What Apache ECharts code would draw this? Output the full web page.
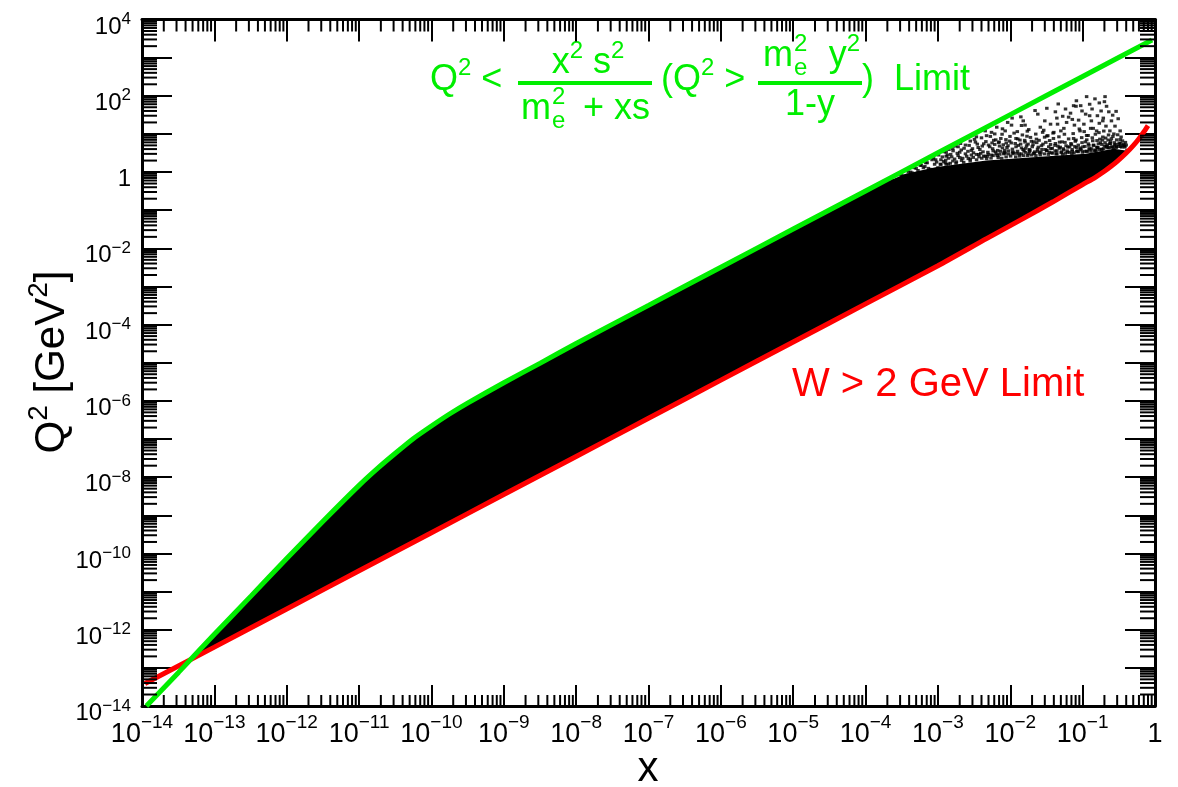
<!DOCTYPE html>
<html>
<head>
<meta charset="utf-8">
<script src="https://cdn.jsdelivr.net/npm/echarts@6/dist/echarts.min.js"></script>
<style>
  html, body { margin: 0; padding: 0; background: #fff; }
  #chart { width: 1178px; height: 787px; }
</style>
</head>
<body>
<div id="chart"></div>
<script>
// Upper kinematic limit (green): Q^2 < x^2 s^2 / (m_e^2 + x s)
const upperX  = [1.15e-14, 3.2e-14, 1e-13, 3.2e-13, 1e-12, 3.2e-12, 1e-11, 1.8e-11, 3.2e-11, 5.6e-11, 1e-10, 1.8e-10, 3.2e-10, 1e-9, 3.2e-9, 1e-8, 1e-7, 1e-6, 1e-5, 1e-4, 1e-3, 1e-2, 1e-1, 0.91];
const upperQ2 = [1e-14, 7.6e-14, 7.6e-13, 7.6e-12, 7.4e-11, 7.1e-10, 6.1e-9, 1.7e-8, 4.3e-8, 1.02e-7, 2.2e-7, 4.6e-7, 8.9e-7, 3.0e-6, 9.8e-6, 3.2e-5, 3.2e-4, 3.2e-3, 3.2e-2, 0.32, 3.2, 32, 320, 2900];

// Lower limit (red): W > 2 GeV
const lowerX  = [1.1e-14, 1e-13, 1e-12, 1e-11, 1e-10, 1e-9, 1e-8, 1e-7, 1e-6, 1e-5, 1e-4, 1e-3, 4.7e-3, 1.5e-2, 3.9e-2, 0.1, 0.15, 0.2, 0.25, 0.3, 0.4, 0.5, 0.6, 0.7, 0.8];
const lowerQ2 = [3.9e-14, 3.5e-13, 3.5e-12, 3.5e-11, 3.5e-10, 3.5e-9, 3.5e-8, 3.5e-7, 3.5e-6, 3.5e-5, 3.5e-4, 3.5e-3, 1.8e-2, 6e-2, 0.166, 0.47, 0.73, 1.05, 1.44, 1.91, 3.16, 4.94, 7.5, 11.2, 16.5];

// Outline of the densely populated event region
const bandTopX  = [4.6e-14, 1e-13, 3.2e-13, 1e-12, 3.2e-12, 1e-11, 1.8e-11, 3.2e-11, 5.6e-11, 1e-10, 1.8e-10, 3.2e-10, 1e-9, 3.2e-9, 1e-8, 1e-7, 1e-6, 1e-5, 1e-4, 1.5e-4, 3.6e-4, 9.6e-4, 4.7e-3, 2.3e-2, 0.11, 0.27, 0.39];
const bandTopQ2 = [1.6e-13, 7.6e-13, 7.6e-12, 7.4e-11, 7.1e-10, 6.1e-9, 1.7e-8, 4.3e-8, 1.02e-7, 2.2e-7, 4.6e-7, 8.9e-7, 3.0e-6, 9.8e-6, 3.2e-5, 3.2e-4, 3.2e-3, 3.2e-2, 0.32, 0.45, 0.9, 1.35, 2.0, 2.5, 3.0, 4.1, 3.7];
const bandBottomX  = [4.6e-14, 1e-13, 1e-12, 1e-11, 1e-10, 1e-9, 1e-8, 1e-7, 1e-6, 1e-5, 1e-4, 1e-3, 4.7e-3, 1.5e-2, 3.9e-2, 0.1, 0.15, 0.2, 0.25, 0.3, 0.39];
const bandBottomQ2 = [1.6e-13, 3.5e-13, 3.5e-12, 3.5e-11, 3.5e-10, 3.5e-9, 3.5e-8, 3.5e-7, 3.5e-6, 3.5e-5, 3.5e-4, 3.5e-3, 1.8e-2, 6e-2, 0.166, 0.47, 0.73, 1.05, 1.44, 1.91, 3.0];

// Individual events in the sparse high-x, high-Q^2 corner [x, Q^2]
const sparseEvents = [
  [0.1135, 95], [0.148, 83], [0.204, 95], [0.082, 74], [0.081, 53], [0.214, 53], [0.046, 61], [0.032, 47],
  [0.022, 41], [0.29, 39], [0.0106, 26], [0.0151, 22], [0.0143, 16.6], [0.0104, 17], [0.0078, 13.6], [0.0061, 10],
  [0.0047, 9], [0.0034, 8.4], [0.064, 27.5], [0.044, 26], [0.077, 17], [0.104, 18], [0.132, 22], [0.193, 26],
  [0.238, 12], [0.27, 10], [0.33, 7.1], [0.37, 5.4], [0.156, 12], [0.1135, 9.1], [0.092, 12], [0.05, 12],
  [0.039, 10.5], [0.032, 8.8], [0.023, 7.3], [0.017, 8.7], [0.012, 7.6], [0.0088, 5.8], [0.0071, 4.8], [0.0056, 5.8],
  [0.0041, 4.8], [0.003, 4.1], [0.0024, 5.1], [0.002, 3.3], [0.0016, 4.1], [0.0013, 2.6], [0.0011, 2.1], [0.00087, 2.3],
  [0.00071, 1.75], [0.00057, 1.5], [0.00047, 1.3], [0.00037, 1.1], [0.0003, 0.85], [0.00024, 0.6], [0.00021, 0.55],
  [0.00079, 1.18], [0.001, 1.3], [0.0013, 1.6], [0.0018, 1.85], [0.0022, 2.3], [0.0029, 2.8], [0.0037, 2.5], [0.0049, 3.3],
  [0.0064, 3.0], [0.0084, 3.7], [0.011, 3.2], [0.0143, 4.3], [0.0187, 3.7], [0.0244, 4.5], [0.032, 3.7], [0.0415, 5.0],
  [0.054, 4.1], [0.07, 5.2], [0.092, 4.3], [0.12, 5.5], [0.156, 4.5], [0.204, 5.9], [0.266, 4.1], [0.347, 4.5], [0.41, 3.7],
  [0.0033, 6.1], [0.0074, 7.6], [0.016, 6.1], [0.035, 6.7], [0.075, 7.6], [0.173, 7.3], [0.238, 5.5], [0.048, 6.1],
  [0.0206, 5.2], [0.0129, 5.0], [0.0057, 4.1], [0.0024, 3.0], [0.0014, 2.3], [0.00096, 1.83], [0.00063, 1.3], [0.00042, 1.0],
  [0.36, 3.3], [0.31, 2.5],
  [0.0012, 1.9], [0.0015, 2.9], [0.0017, 2.2], [0.0019, 2.7], [0.0021, 3.8], [0.0026, 3.5], [0.0028, 2.2], [0.0031, 3.2],
  [0.0036, 4.4], [0.0039, 3.1], [0.0043, 5.5], [0.0045, 2.6], [0.0052, 4.6], [0.0055, 2.8], [0.0059, 6.8], [0.0067, 3.7],
  [0.0069, 5.9], [0.0078, 4.3], [0.0081, 3.0], [0.0093, 4.9], [0.0098, 6.5], [0.0107, 4.0], [0.0117, 5.6], [0.0123, 3.1],
  [0.0136, 6.9], [0.0155, 3.6], [0.0168, 4.9], [0.0178, 3.0], [0.0196, 6.4], [0.0218, 3.4], [0.0232, 5.9], [0.0265, 3.3],
  [0.0283, 5.4], [0.0298, 8.2], [0.034, 4.6], [0.037, 3.2], [0.0395, 7.6], [0.044, 3.6], [0.0455, 4.8], [0.051, 3.4],
  [0.057, 6.0], [0.061, 3.6], [0.066, 4.6], [0.072, 3.5], [0.079, 6.4], [0.085, 3.6], [0.098, 5.9], [0.106, 3.5],
  [0.114, 7.0], [0.126, 4.0], [0.138, 6.6], [0.146, 3.6], [0.165, 5.5], [0.182, 4.0], [0.19, 8.3], [0.215, 4.5],
  [0.225, 6.9], [0.25, 7.5], [0.285, 5.3], [0.3, 3.4], [0.32, 5.8],
  [0.0125, 11.5], [0.018, 13], [0.026, 15], [0.028, 11], [0.036, 18], [0.055, 14], [0.06, 20], [0.068, 35],
  [0.088, 23], [0.098, 40], [0.125, 30], [0.14, 14], [0.17, 19], [0.18, 40], [0.21, 16], [0.25, 22],
  [0.28, 16], [0.17, 65], [0.125, 60], [0.058, 45], [0.0045, 12], [0.0065, 15], [0.0092, 20], [0.0028, 6.5],
  [0.0019, 4.6], [0.0013, 3.3],
  [0.00031, 0.85], [0.00034, 0.8], [0.00039, 1.0], [0.00044, 0.95], [0.0005, 1.25], [0.00053, 1.1], [0.00059, 1.5], [0.00066, 1.4],
  [0.00068, 1.75], [0.00074, 1.25], [0.00083, 2.1], [0.0009, 1.6], [0.00093, 2.1], [0.00102, 2.8], [0.00108, 1.6], [0.00115, 2.5],
  [0.00122, 3.4], [0.00128, 2.05], [0.00135, 2.8], [0.00142, 3.9], [0.00148, 1.7],
  [0.00155, 2.5], [0.00162, 3.6], [0.00175, 4.8], [0.00185, 3.1], [0.002, 2.4], [0.00205, 5.6], [0.0023, 4.2], [0.0025, 2.6],
  [0.0027, 5.0], [0.0029, 3.7], [0.0032, 7.2], [0.0034, 2.9], [0.0035, 5.4], [0.0038, 3.9], [0.004, 7.9], [0.0042, 3.4],
  [0.0046, 6.3], [0.0048, 2.6], [0.005, 5.1], [0.0053, 8.6], [0.0058, 3.6], [0.0061, 5.3], [0.0063, 7.0], [0.0066, 2.7],
  [0.007, 6.2], [0.0073, 3.5], [0.0077, 9.8], [0.008, 5.2], [0.0085, 3.1], [0.0087, 7.1], [0.009, 4.4], [0.0095, 3.0], [0.0099, 8.6],
  [0.0103, 5.8], [0.0108, 3.4], [0.0113, 10.5], [0.012, 4.6], [0.0127, 7.4], [0.0133, 3.0], [0.0139, 5.4], [0.0147, 9.4],
  [0.015, 3.9], [0.0158, 6.8], [0.0164, 4.2], [0.0172, 11.8], [0.0176, 5.4], [0.0183, 3.4], [0.019, 8.1], [0.0201, 4.6],
  [0.021, 6.2], [0.0215, 3.1], [0.0225, 9.9], [0.0238, 4.0], [0.025, 6.8], [0.0255, 3.2], [0.027, 4.9], [0.029, 12.5],
  [0.0305, 3.9], [0.031, 6.0], [0.033, 9.0], [0.0345, 3.3], [0.036, 5.3], [0.038, 4.2], [0.04, 11.0], [0.042, 5.6],
  [0.043, 3.0], [0.047, 8.4], [0.049, 4.5], [0.052, 6.2], [0.053, 2.9], [0.056, 9.8], [0.059, 4.9], [0.062, 3.3],
  [0.064, 7.4], [0.069, 5.6], [0.071, 3.0], [0.074, 10.2], [0.078, 4.7], [0.081, 6.9], [0.083, 3.5], [0.087, 5.1],
  [0.09, 13.5], [0.095, 3.8], [0.097, 8.0],
  [0.101, 4.6], [0.105, 11.5], [0.109, 6.2], [0.116, 3.5], [0.119, 9.1], [0.122, 5.0], [0.129, 14.0], [0.133, 4.1],
  [0.136, 7.9], [0.142, 5.1], [0.15, 9.8], [0.153, 3.6], [0.158, 6.7], [0.162, 4.3], [0.168, 10.8], [0.176, 5.9],
  [0.185, 3.9], [0.188, 6.9], [0.196, 11.9], [0.2, 4.8], [0.208, 7.8], [0.219, 5.2], [0.228, 9.4], [0.232, 4.4],
  [0.243, 6.4], [0.255, 4.6], [0.262, 8.6], [0.275, 5.9], [0.29, 4.4], [0.295, 7.0], [0.305, 9.5], [0.315, 4.7],
  [0.335, 5.6], [0.34, 8.3], [0.355, 6.6], [0.38, 4.8], [0.39, 6.0], [0.4, 5.1],
  [0.014, 28], [0.024, 33], [0.03, 22], [0.042, 38], [0.053, 29], [0.072, 24], [0.094, 55], [0.11, 33],
  [0.135, 45], [0.16, 30], [0.2, 70], [0.23, 38], [0.26, 31], [0.31, 25], [0.33, 12], [0.19, 22],
  [0.075, 55], [0.045, 18], [0.016, 17], [0.0085, 12], [0.0055, 11],
  // events crowding just above the dense core
  [0.0011, 1.6], [0.00126, 1.75], [0.00139, 1.62], [0.00161, 1.95], [0.00178, 1.7], [0.00212, 2.02], [0.00227, 1.8], [0.00263, 2.25],
  [0.00279, 1.95], [0.00308, 2.42], [0.00342, 2.1], [0.00367, 2.88], [0.00404, 2.3], [0.00428, 2.62], [0.00471, 2.25], [0.00497, 2.9],
  [0.00542, 2.32], [0.00578, 2.7], [0.00623, 3.38], [0.00681, 2.41], [0.00716, 2.92], [0.00762, 2.3], [0.00823, 3.3], [0.00876, 2.5],
  [0.00944, 3.6], [0.0101, 2.62], [0.0109, 3.02], [0.0119, 2.5], [0.0126, 3.52], [0.0135, 2.62], [0.0142, 3.0], [0.0153, 2.7],
  [0.0161, 3.28], [0.0174, 2.72], [0.0184, 3.9], [0.0198, 2.8], [0.0209, 3.12], [0.0226, 2.7], [0.0239, 3.5], [0.0259, 2.82],
  [0.0274, 3.9], [0.0296, 3.0], [0.0318, 3.62], [0.0336, 2.9], [0.0364, 4.1], [0.0385, 3.12], [0.0416, 3.6], [0.0441, 3.0],
  [0.0476, 4.2], [0.0505, 3.22], [0.0546, 3.8], [0.0578, 3.1], [0.0625, 4.5], [0.0661, 3.3], [0.0716, 3.9], [0.0758, 3.2],
  [0.0819, 4.4], [0.0868, 3.4], [0.0938, 4.0], [0.0993, 3.3], [0.1075, 4.7], [0.1135, 3.5], [0.1227, 4.1], [0.1302, 3.5],
  [0.1408, 5.0], [0.149, 3.8], [0.1612, 4.4], [0.1702, 3.9], [0.1842, 5.3], [0.1948, 4.1], [0.2112, 4.8], [0.2238, 4.3],
  [0.2415, 5.6], [0.2555, 4.5], [0.2768, 5.0], [0.2924, 4.6], [0.3168, 5.3], [0.3345, 4.7], [0.3622, 5.0], [0.3831, 4.5]
];

// Axis ranges and minor tick subdivisions
const xRange = [1e-14, 1];
const yRange = [1e-14, 1e4];
const minorMantissas = [2, 3, 4, 5, 6, 7, 8, 9];

const FONT = 'Liberation Sans, Arial, Helvetica, sans-serif';
const GREEN = '#00ee00';
const RED = '#ff0000';

function decadeMinors(range) {
  const out = [];
  const lo = Math.round(Math.log10(range[0]));
  const hi = Math.round(Math.log10(range[1]));
  for (let e = lo; e < hi; e++) {
    minorMantissas.forEach(m => out.push(m * Math.pow(10, e)));
  }
  return out;
}
const xMinor = decadeMinors(xRange);
const yMinor = decadeMinors(yRange);

function expLabel(v, oneStyle, everyOther) {
  const e = Math.round(Math.log10(v));
  if (everyOther && Math.abs(e) % 2 === 1) return '';
  if (e === 0) return '{' + oneStyle + '|1}';
  const sign = e < 0 ? '\u2212' : '';
  return '{b|10}{s|' + sign + Math.abs(e) + '}';
}

const chart = echarts.init(document.getElementById('chart'), null, { renderer: 'canvas' });

const axisLine = { show: true, onZero: false, lineStyle: { color: '#000', width: 3 } };

const option = {
  animation: false,
  backgroundColor: '#fff',
  grid: { left: 142, right: 23, top: 17, bottom: 81, containLabel: false },
  xAxis: [
    {
      type: 'log', logBase: 10, min: xRange[0], max: xRange[1], interval: 1,
      position: 'bottom',
      axisLine: axisLine,
      axisTick: { show: true, inside: true, length: 21, lineStyle: { color: '#000', width: 2 } },
      splitLine: { show: false },
      axisLabel: {
        show: true, margin: 15, color: '#000', fontFamily: FONT, fontSize: 27,
        formatter: v => expLabel(v, 'one', false),
        rich: {
          b: { fontFamily: FONT, fontSize: 27, lineHeight: 27, color: '#000' },
          s: { fontFamily: FONT, fontSize: 19, lineHeight: 19, color: '#000', padding: [0, 0, 23, 0] },
          one: { fontFamily: FONT, fontSize: 27, lineHeight: 27, color: '#000', padding: [7.5, 0, 7.5, 0] }
        }
      }
    },
    {
      type: 'log', logBase: 10, min: xRange[0], max: xRange[1], interval: 1,
      position: 'top',
      axisLine: axisLine,
      axisTick: { show: true, inside: true, length: 22, lineStyle: { color: '#000', width: 2 } },
      splitLine: { show: false },
      axisLabel: { show: false }
    }
  ],
  yAxis: [
    {
      type: 'log', logBase: 10, min: yRange[0], max: yRange[1], interval: 1,
      position: 'left',
      axisLine: axisLine,
      axisTick: { show: true, inside: true, length: 30, lineStyle: { color: '#000', width: 2 } },
      splitLine: { show: false },
      axisLabel: {
        show: true, margin: 11, color: '#000', fontFamily: FONT, fontSize: 24,
        formatter: v => expLabel(v, 'b', true),
        rich: {
          b: { fontFamily: FONT, fontSize: 24, lineHeight: 24, color: '#000', padding: [15, 0, 0, 0] },
          s: { fontFamily: FONT, fontSize: 17, lineHeight: 17, color: '#000' }
        }
      }
    },
    {
      type: 'log', logBase: 10, min: yRange[0], max: yRange[1], interval: 1,
      position: 'right',
      axisLine: axisLine,
      axisTick: { show: true, inside: true, length: 30, lineStyle: { color: '#000', width: 2 } },
      splitLine: { show: false },
      axisLabel: { show: false }
    }
  ],
  series: [
    {
      // densely populated part of the event distribution
      type: 'custom', name: 'events (dense)', silent: true, z: 1,
      data: [[bandTopX[0], bandTopQ2[0]]],
      renderItem: function (params, api) {
        const pts = [];
        for (let i = 0; i < bandTopX.length; i++) pts.push(api.coord([bandTopX[i], bandTopQ2[i]]));
        for (let i = bandBottomX.length - 1; i >= 0; i--) pts.push(api.coord([bandBottomX[i], bandBottomQ2[i]]));
        return { type: 'polygon', shape: { points: pts }, style: { fill: '#000' } };
      }
    },
    {
      type: 'scatter', name: 'events', silent: true, z: 2,
      symbol: 'rect', symbolSize: [3.5, 3],
      itemStyle: { color: '#000' },
      data: sparseEvents
    },
    {
      type: 'line', name: 'W > 2 GeV', silent: true, z: 3,
      showSymbol: false, smooth: 0.2,
      lineStyle: { color: RED, width: 5 },
      data: lowerX.map((x, i) => [x, lowerQ2[i]])
    },
    {
      type: 'line', name: 'Q2 upper limit', silent: true, z: 4,
      showSymbol: false, smooth: 0.2,
      lineStyle: { color: GREEN, width: 5 },
      data: upperX.map((x, i) => [x, upperQ2[i]])
    },
    {
      // minor ticks on the bottom and top frame
      type: 'custom', name: 'x minor ticks', silent: true, z: 10,
      data: xMinor.map(v => [v, 1]),
      renderItem: function (params, api) {
        const cs = params.coordSys;
        const px = api.coord([api.value(0), 1])[0];
        const yb = cs.y + cs.height;
        return {
          type: 'group', children: [
            { type: 'line', shape: { x1: px, y1: yb, x2: px, y2: yb - 11 }, style: { stroke: '#000', lineWidth: 2 } },
            { type: 'line', shape: { x1: px, y1: cs.y, x2: px, y2: cs.y + 12 }, style: { stroke: '#000', lineWidth: 2 } }
          ]
        };
      }
    },
    {
      // minor ticks on the left and right frame
      type: 'custom', name: 'y minor ticks', silent: true, z: 10,
      data: yMinor.map(v => [1e-7, v]),
      renderItem: function (params, api) {
        const cs = params.coordSys;
        const py = api.coord([1e-7, api.value(1)])[1];
        const xr = cs.x + cs.width;
        return {
          type: 'group', children: [
            { type: 'line', shape: { x1: cs.x, y1: py, x2: cs.x + 15, y2: py }, style: { stroke: '#000', lineWidth: 2 } },
            { type: 'line', shape: { x1: xr, y1: py, x2: xr - 15, y2: py }, style: { stroke: '#000', lineWidth: 2 } }
          ]
        };
      }
    }
  ],
  graphic: {
    elements: [
      // axis titles
      {
        type: 'text', x: 648, y: 769, silent: true,
        style: { text: 'x', font: '42px ' + FONT, fill: '#000', textAlign: 'center', textVerticalAlign: 'middle', align: 'center', verticalAlign: 'middle' }
      },
      {
        type: 'text', x: 52, y: 362, rotation: Math.PI / 2, silent: true,
        style: {
          text: '{b|Q}{s|2}{b| [GeV}{s|2}{b|]}', fill: '#000', textAlign: 'center', textVerticalAlign: 'middle', align: 'center', verticalAlign: 'middle',
          rich: {
            b: { font: '42px ' + FONT, fill: '#000', lineHeight: 42 },
            s: { font: '28px ' + FONT, fill: '#000', lineHeight: 28, padding: [0, 0, 26, 0] }
          }
        }
      },
      // lower limit annotation
      {
        type: 'text', x: 792, y: 385, silent: true,
        style: { text: 'W > 2 GeV Limit', font: '40px ' + FONT, fill: RED, textAlign: 'left', textVerticalAlign: 'middle', align: 'left', verticalAlign: 'middle' }
      },
      // upper limit annotation, built from pieces around the two fraction bars
      {
        type: 'text', x: 430, y: 80, silent: true,
        style: {
          text: '{b|Q}{s|2}{b| <}', textAlign: 'left', textVerticalAlign: 'middle', align: 'left', verticalAlign: 'middle',
          rich: { b: { font: '36px ' + FONT, fill: GREEN, lineHeight: 36 }, s: { font: '24px ' + FONT, fill: GREEN, lineHeight: 24, padding: [0, 0, 24, 0] } }
        }
      },
      { type: 'rect', silent: true, shape: { x: 518, y: 81, width: 134, height: 4 }, style: { fill: GREEN } },
      {
        type: 'text', x: 588, y: 63, silent: true,
        style: {
          text: '{b|x}{s|2}{b| s}{s|2}', textAlign: 'center', textVerticalAlign: 'middle', align: 'center', verticalAlign: 'middle',
          rich: { b: { font: '36px ' + FONT, fill: GREEN, lineHeight: 36 }, s: { font: '24px ' + FONT, fill: GREEN, lineHeight: 24, padding: [0, 0, 24, 0] } }
        }
      },
      { type: 'text', x: 521, y: 109, silent: true, style: { text: 'm', font: '36px ' + FONT, fill: GREEN, textAlign: 'left', textVerticalAlign: 'middle', align: 'left', verticalAlign: 'middle' } },
      { type: 'text', x: 552, y: 97, silent: true, style: { text: '2', font: '24px ' + FONT, fill: GREEN, textAlign: 'left', textVerticalAlign: 'middle', align: 'left', verticalAlign: 'middle' } },
      { type: 'text', x: 552, y: 121, silent: true, style: { text: 'e', font: '24px ' + FONT, fill: GREEN, textAlign: 'left', textVerticalAlign: 'middle', align: 'left', verticalAlign: 'middle' } },
      { type: 'text', x: 650, y: 109, silent: true, style: { text: '+ xs', font: '36px ' + FONT, fill: GREEN, textAlign: 'right', textVerticalAlign: 'middle', align: 'right', verticalAlign: 'middle' } },
      {
        type: 'text', x: 661, y: 80, silent: true,
        style: {
          text: '{b|(Q}{s|2}{b| >}', textAlign: 'left', textVerticalAlign: 'middle', align: 'left', verticalAlign: 'middle',
          rich: { b: { font: '36px ' + FONT, fill: GREEN, lineHeight: 36 }, s: { font: '24px ' + FONT, fill: GREEN, lineHeight: 24, padding: [0, 0, 24, 0] } }
        }
      },
      { type: 'rect', silent: true, shape: { x: 758, y: 81, width: 104, height: 4 }, style: { fill: GREEN } },
      { type: 'text', x: 763, y: 56, silent: true, style: { text: 'm', font: '36px ' + FONT, fill: GREEN, textAlign: 'left', textVerticalAlign: 'middle', align: 'left', verticalAlign: 'middle' } },
      { type: 'text', x: 794, y: 44, silent: true, style: { text: '2', font: '24px ' + FONT, fill: GREEN, textAlign: 'left', textVerticalAlign: 'middle', align: 'left', verticalAlign: 'middle' } },
      { type: 'text', x: 794, y: 68, silent: true, style: { text: 'e', font: '24px ' + FONT, fill: GREEN, textAlign: 'left', textVerticalAlign: 'middle', align: 'left', verticalAlign: 'middle' } },
      {
        type: 'text', x: 860, y: 56, silent: true,
        style: {
          text: '{b|y}{s|2}', textAlign: 'right', textVerticalAlign: 'middle', align: 'right', verticalAlign: 'middle',
          rich: { b: { font: '36px ' + FONT, fill: GREEN, lineHeight: 36 }, s: { font: '24px ' + FONT, fill: GREEN, lineHeight: 24, padding: [0, 0, 24, 0] } }
        }
      },
      { type: 'text', x: 810, y: 105, silent: true, style: { text: '1-y', font: '36px ' + FONT, fill: GREEN, textAlign: 'center', textVerticalAlign: 'middle', align: 'center', verticalAlign: 'middle' } },
      { type: 'text', x: 862, y: 80, silent: true, style: { text: ')  Limit', font: '36px ' + FONT, fill: GREEN, textAlign: 'left', textVerticalAlign: 'middle', align: 'left', verticalAlign: 'middle' } }
    ]
  }
};

chart.setOption(option);
</script>
</body>
</html>
